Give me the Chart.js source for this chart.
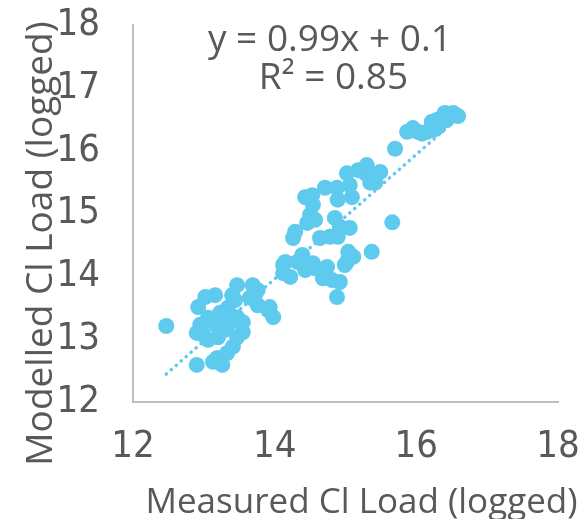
<!DOCTYPE html>
<html>
<head>
<meta charset="utf-8">
<script src="https://cdn.jsdelivr.net/npm/chart.js@4/dist/chart.umd.min.js"></script>
<style>
  html, body { margin: 0; padding: 0; background: #fff; }
  #wrap { width: 582px; height: 519px; }
</style>
</head>
<body>
<div id="wrap"><canvas id="chartCanvas"></canvas></div>
<script>
// measured (x) and modelled (y) Cl load, both logged
const measured = [
    16.59, 16.52, 16.40, 16.43, 16.29, 16.22, 16.24, 16.15, 16.02, 15.95, 15.87, 16.08, 16.31, 15.70,
    15.49, 15.42, 15.30, 15.28, 15.18, 15.02, 15.06, 15.09, 14.88, 14.89, 14.71, 14.53, 14.54, 15.35, 14.43,
    14.50, 14.46, 14.29, 14.26, 14.57, 14.85, 14.92, 15.06, 14.64, 14.78, 14.89, 15.04, 15.02, 15.11, 14.99,
    15.37, 15.66, 14.39, 14.32, 14.12, 14.12, 14.22, 14.43, 14.57, 14.74, 14.68, 14.81, 14.92, 14.88,
    14.15, 14.54,
    13.47, 13.40, 13.69, 13.76, 13.65, 13.76, 13.93, 13.98, 13.02, 13.16, 12.92, 12.95, 12.90, 13.06,
    13.23, 13.34, 13.47, 13.55, 13.55, 13.47, 13.41, 13.33, 13.19, 13.13, 13.26, 13.06, 12.99, 13.20,
    13.30, 13.37, 12.90, 12.47, 13.16, 13.30, 13.44, 13.72, 13.91
];
const modelled = [
    16.55, 16.60, 16.60, 16.49, 16.49, 16.46, 16.33, 16.30, 16.30, 16.36, 16.30, 16.27, 16.38, 16.03,
    15.66, 15.49, 15.77, 15.64, 15.69, 15.64, 15.45, 15.26, 15.41, 15.22, 15.41, 15.29, 15.14, 15.49, 15.26,
    14.98, 14.85, 14.71, 14.61, 14.90, 14.93, 14.79, 14.77, 14.61, 14.63, 14.63, 14.39, 14.23, 14.31, 14.18,
    14.39, 14.86, 14.34, 14.23, 14.18, 14.05, 13.99, 14.10, 14.13, 14.15, 13.97, 13.94, 13.91, 13.67,
    14.23, 14.21,
    13.86, 13.70, 13.86, 13.78, 13.66, 13.54, 13.51, 13.35, 13.67, 13.70, 13.51, 13.23, 13.10, 13.34,
    13.42, 13.50, 13.35, 13.27, 13.11, 13.03, 12.88, 12.78, 12.70, 12.64, 12.59, 12.99, 13.07, 13.03,
    13.15, 13.26, 12.59, 13.21, 13.23, 13.34, 13.62, 13.70, 13.46
];

// linear trendline as printed on the chart
const trendSlope = 0.99;
const trendIntercept = 0.1;
const equationText = 'y = 0.99x + 0.1';
const rSquaredText = 'R\u00B2 = 0.85';

const xTitle = 'Measured Cl Load (logged)';
const yTitle = 'Modelled Cl Load (logged)';

const pointColour = 'rgb(94, 202, 238)';
const textColour = '#595959';
const axisColour = '#bfbfbf';
const titleFont = "'Open Sans', sans-serif";
const tickFont = "'Liberation Sans Narrow', 'DejaVu Sans Condensed', sans-serif";

const points = measured.map((x, i) => ({ x: x, y: modelled[i] }));
const xMin = Math.min(...measured);
const xMax = Math.max(...measured);
const trend = [xMin, xMax].map(x => ({ x: x, y: trendSlope * x + trendIntercept }));

// equation + R² inside the plot, and the two axis titles (Excel places them off-centre)
const textLayer = {
    id: 'textLayer',
    afterDatasetsDraw(chart) {
        const c = chart.ctx;
        const xs = chart.scales.x;
        const ys = chart.scales.y;
        const area = chart.chartArea;
        c.save();
        c.fillStyle = textColour;
        c.font = "37px " + titleFont;
        c.textAlign = 'center';
        c.textBaseline = 'middle';
        c.fillText(equationText, xs.getPixelForValue(14.78), ys.getPixelForValue(17.76));
        c.fillText(rSquaredText, xs.getPixelForValue(14.83), ys.getPixelForValue(17.15));

        c.textBaseline = 'alphabetic';
        c.font = "35px " + titleFont;
        c.fillText(xTitle, (area.left + area.right) / 2 + 16, chart.height - 6);

        c.font = "37px " + titleFont;
        c.translate(52, (area.top + area.bottom) / 2 + 30);
        c.rotate(-Math.PI / 2);
        c.fillText(yTitle, 0, 0);
        c.restore();
    }
};

const ctx = document.getElementById('chartCanvas').getContext('2d');
const chart = new Chart(ctx, {
    type: 'scatter',
    data: {
        datasets: [{
            label: 'Modelled vs measured',
            data: points,
            backgroundColor: pointColour,
            borderWidth: 0,
            pointRadius: 8,
            pointHoverRadius: 8,
            order: 1
        }, {
            type: 'line',
            label: 'Trend',
            data: trend,
            borderColor: pointColour,
            borderWidth: 3.5,
            borderDash: [0.1, 6.5],
            borderCapStyle: 'round',
            pointRadius: 0,
            fill: false,
            order: 2
        }]
    },
    options: {
        responsive: true,
        maintainAspectRatio: false,
        animation: false,
        layout: {
            padding: { top: 25, right: 24, left: 0, bottom: 0 }
        },
        plugins: {
            legend: { display: false },
            tooltip: { enabled: false }
        },
        scales: {
            x: {
                type: 'linear',
                min: 12,
                max: 18,
                afterFit: (scale) => {
                    scale.height = 117;
                    scale.paddingLeft = 0;
                    scale.paddingRight = 0;
                },
                grid: { display: false, drawTicks: false },
                border: { display: true, color: axisColour, width: 2 },
                ticks: {
                    stepSize: 2,
                    padding: 22,
                    color: textColour,
                    font: { family: tickFont, size: 38 }
                }
            },
            y: {
                type: 'linear',
                min: 12,
                max: 18,
                afterFit: (scale) => {
                    scale.width = 133;
                    scale.paddingTop = 0;
                    scale.paddingBottom = 0;
                },
                grid: { display: false, drawTicks: false },
                border: { display: true, color: axisColour, width: 2 },
                ticks: {
                    stepSize: 1,
                    padding: 33,
                    color: textColour,
                    font: { family: tickFont, size: 38 }
                }
            }
        }
    },
    plugins: [textLayer]
});
</script>
</body>
</html>
